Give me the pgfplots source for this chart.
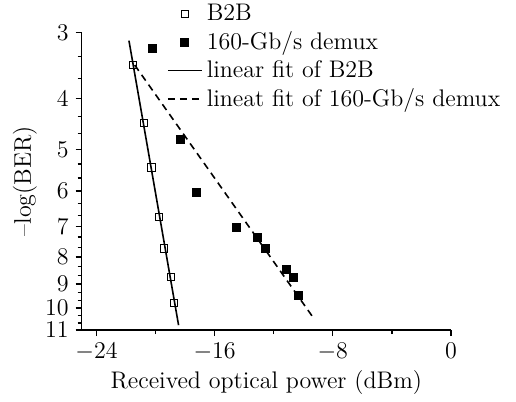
\documentclass[border=0pt]{standalone}
\usepackage{pgfplots}
\pgfplotsset{compat=1.18}
\begin{document}
\begin{tikzpicture}
\begin{axis}[
  scale only axis, width=184.6pt, height=148.8pt,
  xmin=-25, xmax=0, ymin=3, ymax=11, ymode=log, y dir=reverse,
  axis lines=left, axis line style={-, line width=0.7pt},
  xtick={-24,-16,-8,0}, minor xtick={-20,-12,-4},
  ytick={3,4,5,6,7,8,9,10,11}, yticklabels={3,4,5,6,7,8,9,10,11},
  minor ytick={3.333,3.667,4.333,4.667,5.333,5.667,6.333,6.667,7.333,7.667,8.333,8.667,9.333,9.667,10.333,10.667},
  tick align=outside, major tick length=3pt, minor tick length=2pt,
  tick style={line width=0.7pt, black},
  ticklabel style={font=\fontsize{12}{14}\selectfont},
  xlabel={Received optical power (dBm)},
  ylabel={--log(BER)},
  every axis x label/.style={at={(rel axis cs:0.5,0)}, yshift=-26.3pt, anchor=center, font=\fontsize{12}{14}\selectfont},
  every axis y label/.style={at={(rel axis cs:0,0.5)}, xshift=-28.4pt, rotate=90, anchor=center, font=\fontsize{12}{14}\selectfont},
  legend style={draw=none, fill=none, at={(rel axis cs:0.23,1.11)}, anchor=north west,
    font=\fontsize{12}{14}\selectfont, cells={anchor=west}, inner sep=0pt},
]
\addplot[only marks, mark=square, mark size=1.8pt, mark options={line width=0.5pt, black}] coordinates {
(-21.53,3.46) (-20.80,4.46) (-20.28,5.41) (-19.77,6.72) (-19.45,7.71) (-18.93,8.74) (-18.76,9.79)};
\addlegendentry{B2B}
\addplot[only marks, mark=square*, mark size=2pt, mark options={black}] coordinates {
(-20.22,3.22) (-18.30,4.78) (-17.20,6.02) (-14.52,7.04) (-13.12,7.34) (-12.58,7.71) (-11.14,8.45) (-10.65,8.74) (-10.31,9.47)};
\addlegendentry{160-Gb/s demux}
\addplot[black, line width=0.8pt, no marks] coordinates {(-21.80,3.11) (-18.44,10.77)};
\addlegendentry{linear fit of B2B}
\addplot[black, line width=0.8pt, no marks, dash pattern=on 3.5pt off 2.5pt] coordinates {(-21.41,3.46) (-9.25,10.49)};
\addlegendentry{lineat fit of 160-Gb/s demux}
\end{axis}
\path ([xshift=-40.85pt,yshift=-34pt]current axis.south west) rectangle ([xshift=217.15pt,yshift=165pt]current axis.south west);
\end{tikzpicture}
\end{document}
